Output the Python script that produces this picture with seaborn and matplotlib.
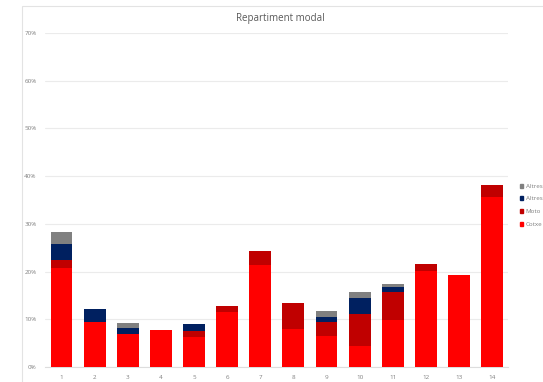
import matplotlib
matplotlib.use("Agg")
import matplotlib.pyplot as plt
import seaborn as sns
import numpy as np
import pandas as pd
from matplotlib.patches import Rectangle, Patch

# values in %
zones = [str(i) for i in range(1, 15)]
cotxe = [20.8, 9.5, 6.9, 7.8, 6.2, 11.5, 21.4, 8.0, 6.4, 4.5, 9.8, 20.1, 19.3, 35.6]
moto = [1.6, 0.0, 0.0, 0.0, 1.3, 1.2, 2.9, 5.5, 3.1, 6.7, 5.9, 1.4, 0.0, 2.5]
altres2 = [3.3, 2.7, 1.2, 0.0, 1.5, 0.0, 0.0, 0.0, 1.0, 3.3, 1.1, 0.0, 0.0, 0.0]
altres = [2.6, 0.0, 1.2, 0.0, 0.0, 0.0, 0.0, 0.0, 1.2, 1.2, 0.7, 0.0, 0.0, 0.0]

series = ["Cotxe", "Moto", "Altres'", "Altres"]
colors = {"Cotxe": "#FF0000", "Moto": "#C00000", "Altres'": "#002060", "Altres": "#808080"}

df = pd.DataFrame({"zona": zones, "Cotxe": cotxe, "Moto": moto,
                   "Altres'": altres2, "Altres": altres})
cum = df[series].cumsum(axis=1)

sns.set_style("white")
plt.rcParams['font.family'] = ['Open Sans', 'DejaVu Sans']

fig = plt.figure(figsize=(5.43, 3.82), dpi=100)
ax = fig.add_axes([45 / 543, 1 - 367 / 382, (508 - 45) / 543, (367 - 33) / 382])

# stacked bars: draw the totals first, then overlay the lower layers
for s in reversed(series):
    sns.barplot(x=df["zona"], y=cum[s] / 100, color=colors[s], width=0.66,
                saturation=1, order=zones, ax=ax, zorder=3,
                linewidth=0, edgecolor="none")

ax.set_xlim(-0.5, 13.48)
ax.set_ylim(0, 0.7)
ax.set_yticks(np.arange(0, 0.71, 0.1))
ax.set_yticklabels([f"{int(round(v * 100))}%" for v in np.arange(0, 0.71, 0.1)])
ax.yaxis.grid(True, color="#EBEBEB", linewidth=0.8, zorder=0)
ax.set_axisbelow(True)
for sp in ["top", "right", "left"]:
    ax.spines[sp].set_visible(False)
ax.spines["bottom"].set_color("#DDDDDD")
ax.spines["bottom"].set_linewidth(0.8)
ax.tick_params(axis="both", length=0, labelsize=4.5, colors="#808080", pad=6)
ax.set_xlabel("")
ax.set_ylabel("")

fig.text(280 / 543, 1 - 18 / 382, "Repartiment modal", ha="center", va="center",
         fontsize=7, color="#595959")

# faint frame of the chart area
fig.patches.append(Rectangle((22 / 543, -0.01), 1.0, 1 - 6 / 382 + 0.01,
                             transform=fig.transFigure, fill=False,
                             edgecolor="#E3E3E3", linewidth=0.8))

handles = [Patch(color=colors[s], label=s) for s in ["Altres", "Altres'", "Moto", "Cotxe"]]
fig.legend(handles=handles, loc="upper left", bbox_to_anchor=(514 / 543, 1 - 178 / 382),
           frameon=False, fontsize=4.5, handlelength=0.6, handleheight=0.6,
           handletextpad=0.4, labelspacing=1.2, labelcolor="#808080")

fig.savefig("out.png", dpi=100)
